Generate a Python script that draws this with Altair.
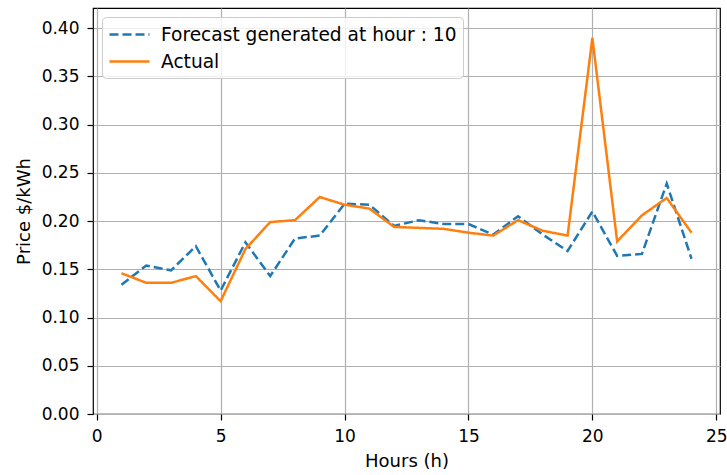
import altair as alt
import pandas as pd

# Hour of day
hours = list(range(1, 25))

# Electricity price ($/kWh) per hour
forecast = [0.134, 0.154, 0.149, 0.174, 0.128, 0.178, 0.143, 0.182, 0.185, 0.218,
            0.217, 0.195, 0.201, 0.197, 0.197, 0.186, 0.205, 0.186, 0.169, 0.210,
            0.164, 0.166, 0.239, 0.161]
actual = [0.146, 0.136, 0.136, 0.143, 0.117, 0.171, 0.199, 0.201, 0.225, 0.217,
          0.213, 0.194, 0.193, 0.192, 0.188, 0.185, 0.201, 0.190, 0.185, 0.390,
          0.179, 0.206, 0.224, 0.188]

series_names = ["Forecast generated at hour : 10", "Actual"]
series_colors = ["#1f77b4", "#ff7f0e"]

x_ticks = [0, 5, 10, 15, 20, 25]
y_ticks = [0.0, 0.05, 0.10, 0.15, 0.20, 0.25, 0.30, 0.35, 0.40]

df = pd.concat([
    pd.DataFrame({"hour": hours, "price": forecast, "series": series_names[0]}),
    pd.DataFrame({"hour": hours, "price": actual, "series": series_names[1]}),
])

FONT = "DejaVu Sans"

x_enc = alt.X(
    "hour:Q",
    scale=alt.Scale(domain=[-0.15, 25.15], nice=False, zero=False),
    axis=alt.Axis(values=x_ticks, title="Hours (h)", format="d"),
)
y_enc = alt.Y(
    "price:Q",
    scale=alt.Scale(domain=[0, 0.421], nice=False),
    axis=alt.Axis(values=y_ticks, title="Price $/kWh", format=".2f"),
)
color_enc = alt.Color(
    "series:N",
    title=None,
    scale=alt.Scale(domain=series_names, range=series_colors),
    legend=alt.Legend(
        orient="none", legendX=9, legendY=9,
        # a wide horizontal stroke as the legend symbol
        symbolType="M-2,0H2", symbolSize=400, symbolStrokeWidth=2.5,
        symbolOffset=10,
        labelFontSize=18.6, labelFont=FONT, labelColor="black",
        labelOffset=20, labelLimit=0,
        padding=6, rowPadding=5,
        fillColor="rgba(255,255,255,0.8)", strokeColor="#cccccc", cornerRadius=4,
    ),
)
dash_enc = alt.StrokeDash(
    "series:N",
    title=None,
    scale=alt.Scale(domain=series_names, range=[[9, 4], [1, 0]]),
)

base = alt.Chart(df).mark_line(strokeWidth=2.5).encode(
    x=x_enc, y=y_enc, color=color_enc, strokeDash=dash_enc
)

forecast_line = base.transform_filter(alt.datum.series == series_names[0])
actual_line = base.transform_filter(alt.datum.series == series_names[1])

chart = (
    alt.layer(forecast_line, actual_line)
    .properties(
        width=627, height=406,
        autosize=alt.AutoSizeParams(type="none"),
        padding={"left": 93, "top": 8, "right": 7, "bottom": 61},
    )
    .configure_view(stroke="black", strokeWidth=1.2)
    .configure_axis(
        domain=False,
        grid=True, gridColor="#b0b0b0", gridWidth=1.2,
        ticks=True, tickColor="black", tickSize=6, tickWidth=1.2,
        labelFont=FONT, labelFontSize=17, labelColor="black",
        titleFont=FONT, titleFontSize=18, titleColor="black", titleFontWeight="normal",
    )
    .configure_axisX(labelPadding=8, titlePadding=8)
    .configure_axisY(labelPadding=8, titlePadding=8)
)

chart.save("out.html", embed_options={"renderer": "svg", "actions": False})
